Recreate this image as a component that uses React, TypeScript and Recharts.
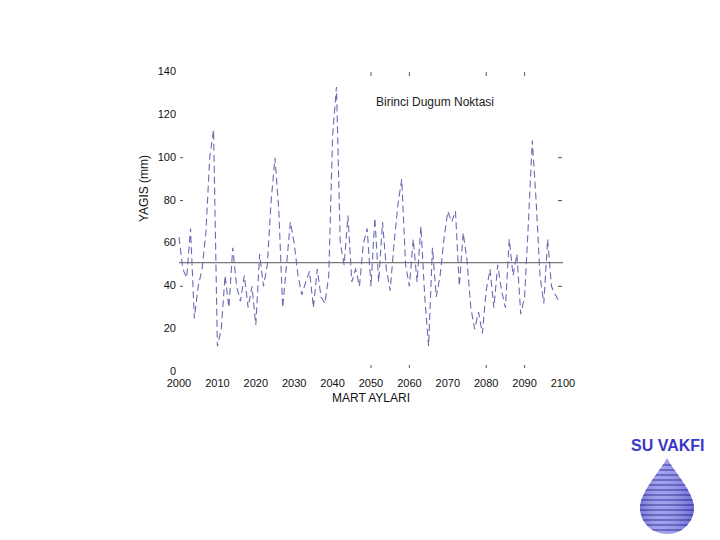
import React from "react";
import { LineChart, Line, XAxis, YAxis, ReferenceLine } from "recharts";

// Mart ayi yagis serisi (mm), 2000-2099
const years = Array.from({ length: 100 }, (_, i) => 2000 + i);
const rainfall = [
  63, 48, 44, 67, 25, 40, 48, 65, 100, 113,
  12, 20, 45, 30, 58, 40, 33, 45, 30, 40,
  22, 55, 40, 50, 80, 100, 75, 30, 50, 70,
  60, 45, 36, 42, 47, 30, 48, 35, 32, 45,
  110, 133, 60, 50, 73, 42, 48, 40, 60, 67,
  40, 72, 42, 70, 48, 38, 60, 78, 90, 50,
  40, 62, 42, 68, 35, 12, 58, 35, 45, 62,
  75, 70, 75, 40, 65, 52, 30, 20, 28, 18,
  38, 48, 30, 50, 38, 30, 62, 45, 55, 27,
  35, 70, 108, 80, 45, 32, 62, 40, 36, 33,
];
const meanLevel = 51;

const xTicks = [2000, 2010, 2020, 2030, 2040, 2050, 2060, 2070, 2080, 2090, 2100];
const yTicks = [0, 20, 40, 60, 80, 100, 120, 140];
const leftTickMarks = [100, 80, 40];
const rightTickMarks = [100, 80, 40];
const frameTickMarks = [2050, 2060, 2080, 2090];

const data = years.map((year, i) => ({ year, value: rainfall[i] }));

const FONT = "'Liberation Sans', Arial, sans-serif";

function LeftTick(props: any) {
  const { x, y, payload } = props;
  return (
    <g>
      <text x={x - 3} y={y} dy={3} textAnchor="end" fontSize={11} fontFamily={FONT} fill="#111">
        {payload.value}
      </text>
      {leftTickMarks.includes(payload.value) && (
        <line x1={x + 1} x2={x + 4} y1={y} y2={y} stroke="#555" strokeWidth={1} />
      )}
    </g>
  );
}

function RightTick(props: any) {
  const { x, y, payload } = props;
  if (!rightTickMarks.includes(payload.value)) return <g />;
  return (
    <g>
      <line x1={x - 5} x2={x - 1} y1={y} y2={y} stroke="#555" strokeWidth={1} />
    </g>
  );
}

function BottomTick(props: any) {
  const { x, y, payload } = props;
  return (
    <g>
      <text x={x} y={y} dy={15} textAnchor="middle" fontSize={11} fontFamily={FONT} fill="#111">
        {payload.value}
      </text>
      {frameTickMarks.includes(payload.value) && (
        <line x1={x} x2={x} y1={y - 7} y2={y - 4} stroke="#555" strokeWidth={1} />
      )}
    </g>
  );
}

function TopTick(props: any) {
  const { x, y, payload } = props;
  if (!frameTickMarks.includes(payload.value)) return <g />;
  return <line x1={x} x2={x} y1={y} y2={y + 4} stroke="#555" strokeWidth={1} />;
}

function Drop() {
  const stripes = Array.from({ length: 14 }, (_, i) => i);
  return (
    <svg width={60} height={80} style={{ position: "absolute", left: 637, top: 456 }}>
      <defs>
        <clipPath id="dropClip">
          <path d="M30 2 C 36 14, 57 36, 57 52 A 27 26 0 0 1 3 52 C 3 36, 24 14, 30 2 Z" />
        </clipPath>
        <linearGradient id="dropShade" x1="0" y1="0" x2="1" y2="0">
          <stop offset="0%" stopColor="#3030a0" stopOpacity={0.4} />
          <stop offset="40%" stopColor="#ffffff" stopOpacity={0.15} />
          <stop offset="100%" stopColor="#2020a0" stopOpacity={0.4} />
        </linearGradient>
      </defs>
      <g clipPath="url(#dropClip)">
        <rect x={0} y={0} width={60} height={80} fill="#9090ea" />
        {stripes.map((i) => (
          <rect key={i} x={0} y={8 + i * 5} width={60} height={2} fill="#5050b8" />
        ))}
        <rect x={0} y={0} width={60} height={80} fill="url(#dropShade)" />
      </g>
    </svg>
  );
}

export default function App() {
  return (
    <div style={{ position: "absolute", left: 0, top: 0, width: 720, height: 540, background: "#fff" }}>
      <LineChart
        width={720}
        height={540}
        data={data}
        margin={{ top: 70, right: 155, bottom: 128, left: 139 }}
      >
        <XAxis
          dataKey="year"
          type="number"
          domain={[2000, 2100]}
          ticks={xTicks}
          axisLine={false}
          tickLine={false}
          tickSize={0}
          tickMargin={0}
          height={40}
          tick={<BottomTick />}
          label={{
            value: "MART AYLARI",
            position: "insideBottom",
            offset: 10,
            fontSize: 12,
            fontFamily: FONT,
            fill: "#111",
          }}
        />
        <XAxis
          xAxisId="top"
          orientation="top"
          dataKey="year"
          type="number"
          domain={[2000, 2100]}
          ticks={xTicks}
          axisLine={false}
          tickLine={false}
          tickSize={0}
          tickMargin={0}
          height={2}
          tick={<TopTick />}
        />
        <YAxis
          domain={[0, 140]}
          ticks={yTicks}
          axisLine={false}
          tickLine={false}
          tickSize={0}
          tickMargin={0}
          width={40}
          tick={<LeftTick />}
          label={{
            value: "YAGIS (mm)",
            angle: -90,
            position: "insideLeft",
            offset: 0,
            dx: 5,
            fontSize: 12,
            fontFamily: FONT,
            fill: "#111",
          }}
        />
        <YAxis
          yAxisId="right"
          orientation="right"
          type="number"
          domain={[0, 140]}
          ticks={yTicks}
          axisLine={false}
          tickLine={false}
          tickSize={0}
          tickMargin={0}
          width={2}
          tick={<RightTick />}
        />
        <ReferenceLine y={meanLevel} stroke="#555" strokeWidth={1} />
        <Line
          type="linear"
          dataKey="value"
          stroke="#6a6ab4"
          strokeWidth={1.1}
          strokeDasharray="7 4"
          dot={false}
          isAnimationActive={false}
        />
        <Line
          yAxisId="right"
          xAxisId="top"
          type="linear"
          dataKey="value"
          stroke="none"
          dot={false}
          activeDot={false}
          legendType="none"
          isAnimationActive={false}
        />
      </LineChart>
      <div
        style={{
          position: "absolute",
          left: 376,
          top: 95,
          fontFamily: FONT,
          fontSize: 12,
          color: "#222",
          whiteSpace: "nowrap",
        }}
      >
        Birinci Dugum Noktasi
      </div>
      <div
        style={{
          position: "absolute",
          left: 631,
          top: 437,
          fontFamily: FONT,
          fontSize: 16,
          fontWeight: "bold",
          color: "#3838c8",
          whiteSpace: "nowrap",
        }}
      >
        SU VAKFI
      </div>
      <Drop />
    </div>
  );
}
